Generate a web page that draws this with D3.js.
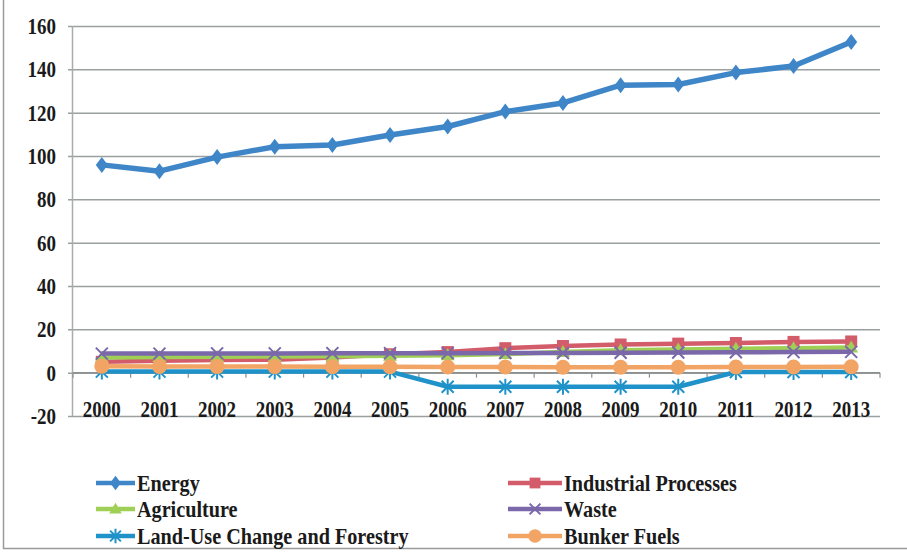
<!DOCTYPE html>
<html>
<head>
<meta charset="utf-8">
<script src="https://cdn.jsdelivr.net/npm/d3@7"></script>
<style>
  html, body { margin: 0; padding: 0; background: #ffffff; }
  svg { display: block; }
  text { font-family: "Liberation Serif", "Times New Roman", serif; font-weight: bold; fill: #1a1a1a; }
</style>
</head>
<body>
<svg id="chart" width="907" height="555"></svg>
<script>
// Emissions by sector, 2000-2013
const years = ["2000","2001","2002","2003","2004","2005","2006","2007","2008","2009","2010","2011","2012","2013"];
const energy      = [95.9, 93.0, 99.5, 104.3, 105.1, 109.7, 113.6, 120.5, 124.5, 132.7, 133.0, 138.5, 141.5, 152.6];
const industrial  = [5.0, 5.5, 5.8, 6.0, 7.0, 8.5, 9.5, 11.3, 12.3, 13.0, 13.4, 13.7, 14.2, 14.4];
const agriculture = [7.0, 7.2, 7.3, 7.5, 7.6, 7.8, 8.0, 8.6, 9.5, 10.3, 10.7, 11.0, 11.3, 11.6];
const waste       = [8.8, 8.8, 8.9, 8.9, 9.0, 9.0, 9.0, 9.1, 9.1, 9.2, 9.3, 9.4, 9.5, 9.6];
const lucf        = [0.5, 0.5, 0.5, 0.5, 0.5, 0.5, -6.5, -6.5, -6.5, -6.5, -6.5, 0.3, 0.3, 0.3];
const bunker      = [3.0, 2.9, 2.8, 2.8, 2.7, 2.7, 2.6, 2.6, 2.5, 2.5, 2.5, 2.6, 2.6, 2.7];
const yTicks = [-20, 0, 20, 40, 60, 80, 100, 120, 140, 160];

const seriesNames = ["Energy", "Industrial Processes", "Agriculture", "Waste", "Land-Use Change and Forestry", "Bunker Fuels"];
const seriesValues = [energy, industrial, agriculture, waste, lucf, bunker];
const seriesColors = ["#3f86c8", "#d25c6a", "#9fcf55", "#7a68aa", "#1f93c9", "#f2a465"];
const seriesMarkers = ["diamond", "square", "triangle", "cross", "asterisk", "circle"];

// tall lettering
const AXIS_TEXT_SCALE = "scale(0.95,1.15)";
const LEGEND_TEXT_SCALE = "scale(1.01,1.15)";

const svg = d3.select("#chart");

// frame of the chart area
svg.append("path")
  .attr("d", "M3.5,0 V548.5 H907")
  .attr("fill", "none").attr("stroke", "#9a9a9a").attr("stroke-width", 1.5);

const x = d3.scaleBand().domain(years).range([73, 880]);
const xc = d => x(d) + x.bandwidth() / 2;
const y = d3.scaleLinear().domain([-20, 160]).range([416, 26]);

// horizontal gridlines with short ticks at the value axis
const grid = svg.append("g")
  .attr("transform", "translate(880,0)")
  .call(d3.axisLeft(y).tickValues(yTicks).tickSize(880 - 68).tickFormat(""));
grid.select(".domain").remove();
grid.selectAll("line").attr("stroke", "#9aa0a0").attr("stroke-width", 1.5);

// value axis line
svg.append("line")
  .attr("x1", 72.5).attr("x2", 72.5).attr("y1", y(160)).attr("y2", y(-20))
  .attr("stroke", "#a8acac").attr("stroke-width", 1.5);

// value axis labels
const yAxis = svg.append("g")
  .attr("transform", "translate(56,0)")
  .call(d3.axisLeft(y).tickValues(yTicks).tickSize(0).tickPadding(0).tickFormat(d => String(d)));
yAxis.select(".domain").remove();
yAxis.selectAll("text")
  .attr("font-size", 20)
  .attr("font-family", "'Liberation Serif', serif")
  .attr("font-weight", "bold")
  .attr("fill", "#1a1a1a")
  .attr("transform", AXIS_TEXT_SCALE);

// category axis crossing at zero, tick marks between categories
const zeroAxis = svg.append("g").attr("transform", `translate(0,${y(0)})`);
zeroAxis.append("line")
  .attr("x1", 73).attr("x2", 880)
  .attr("stroke", "#8c9090").attr("stroke-width", 1.5);
zeroAxis.selectAll("line.tick")
  .data(d3.range(years.length + 1))
  .join("line").attr("class", "tick")
  .attr("x1", i => 73 + i * x.bandwidth()).attr("x2", i => 73 + i * x.bandwidth())
  .attr("y1", 0).attr("y2", 5)
  .attr("stroke", "#8c9090").attr("stroke-width", 1.2);

// category labels at the low end of the value axis
const xAxis = svg.append("g")
  .attr("transform", `translate(0,${y(-20)})`)
  .call(d3.axisBottom(x).tickSize(0).tickPadding(0));
xAxis.select(".domain").remove();
xAxis.selectAll("text")
  .attr("dy", "0.2em")
  .attr("y", -3)
  .attr("font-size", 20)
  .attr("font-family", "'Liberation Serif', serif")
  .attr("font-weight", "bold")
  .attr("fill", "#1a1a1a")
  .attr("transform", AXIS_TEXT_SCALE);

// marker shapes
function drawMarker(g, type, color, cx, cy, s) {
  s = s || 1;
  if (type === "diamond") {
    g.append("path").attr("d", `M${cx},${cy - 8 * s} L${cx + 6 * s},${cy} L${cx},${cy + 8 * s} L${cx - 6 * s},${cy} Z`)
      .attr("fill", color);
  } else if (type === "square") {
    g.append("rect").attr("x", cx - 6 * s).attr("y", cy - 6 * s).attr("width", 12 * s).attr("height", 12 * s)
      .attr("fill", color);
  } else if (type === "triangle") {
    g.append("path").attr("d", `M${cx},${cy - 7 * s} L${cx + 7 * s},${cy + 5 * s} L${cx - 7 * s},${cy + 5 * s} Z`)
      .attr("fill", color);
  } else if (type === "cross") {
    g.append("path").attr("d", `M${cx - 6 * s},${cy - 6 * s} L${cx + 6 * s},${cy + 6 * s} M${cx + 6 * s},${cy - 6 * s} L${cx - 6 * s},${cy + 6 * s}`)
      .attr("stroke", color).attr("stroke-width", 2).attr("fill", "none");
  } else if (type === "asterisk") {
    g.append("path").attr("d", `M${cx - 6 * s},${cy - 6 * s} L${cx + 6 * s},${cy + 6 * s} M${cx + 6 * s},${cy - 6 * s} L${cx - 6 * s},${cy + 6 * s} M${cx},${cy - 8 * s} L${cx},${cy + 8 * s}`)
      .attr("stroke", color).attr("stroke-width", 2).attr("fill", "none");
  } else if (type === "circle") {
    g.append("circle").attr("cx", cx).attr("cy", cy).attr("r", 7.5 * s).attr("fill", color);
  }
}

const line = d3.line().x((d, i) => xc(years[i])).y(d => y(d));
const plot = svg.append("g");

seriesValues.forEach((vals, k) => {
  const g = plot.append("g");
  g.append("path")
    .attr("d", line(vals))
    .attr("fill", "none")
    .attr("stroke", seriesColors[k])
    .attr("stroke-width", k === 0 ? 5.5 : 4.5)
    .attr("stroke-linejoin", "round");
  vals.forEach((v, i) => drawMarker(g, seriesMarkers[k], seriesColors[k], xc(years[i]), y(v)));
});

// legend in two columns
const legendRows = [483, 509, 536];
const legend = svg.append("g");
seriesNames.forEach((name, k) => {
  const col = k % 2, row = Math.floor(k / 2);
  const lx = col === 0 ? 96 : 508;
  const lw = col === 0 ? 39 : 54;
  const ly = legendRows[row];
  const g = legend.append("g");
  g.append("line").attr("x1", lx).attr("x2", lx + lw).attr("y1", ly).attr("y2", ly)
    .attr("stroke", seriesColors[k]).attr("stroke-width", 4.5);
  drawMarker(g, seriesMarkers[k], seriesColors[k], lx + lw / 2, ly, 0.9);
  g.append("g").attr("transform", `translate(${lx + lw + 2},${ly})`)
    .append("text").attr("dy", "0.35em")
    .attr("font-size", 20).attr("transform", LEGEND_TEXT_SCALE).text(name);
});
</script>
</body>
</html>
